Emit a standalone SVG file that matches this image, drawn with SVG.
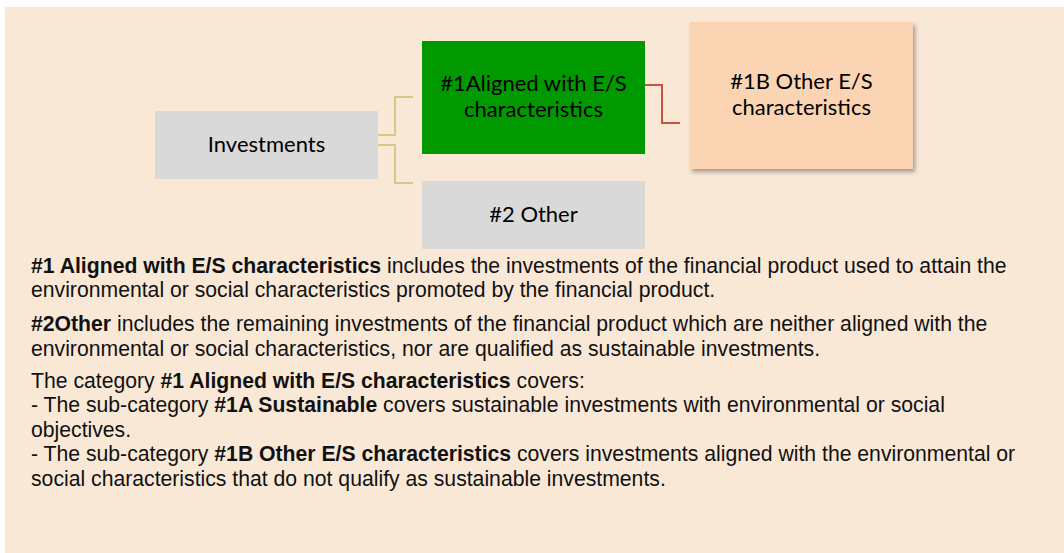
<svg xmlns="http://www.w3.org/2000/svg" width="1064" height="553" viewBox="0 0 1064 553">
<defs>
<style>
.box{font-family:Lato,"Open Sans",sans-serif;font-size:22px;fill:#000;text-anchor:middle}
.body{font-family:"Liberation Sans",Arial,sans-serif;font-size:21.2px;fill:#111}
.b{font-weight:bold}
.c1{fill:none;stroke:#D5C888;stroke-width:2}
.c2{fill:none;stroke:#C8553A;stroke-width:2}
</style>
<filter id="sh" x="-10%" y="-10%" width="130%" height="130%">
<feDropShadow dx="2" dy="3" stdDeviation="2" flood-color="#000" flood-opacity="0.35"/>
</filter>
</defs>
<rect x="0" y="0" width="1064" height="553" fill="#fff"/>
<rect x="5" y="7" width="1059" height="546" fill="#FAE8D7"/>
<g id="connectors">
<polyline class="c1" points="378,135 395,135 395,97 413,97"/>
<polyline class="c1" points="378,145 395,145 395,183 413,183"/>
<polyline class="c2" points="645,85 662,85 662,123 680,123"/>
</g>
<g id="investments">
<rect x="155" y="111" width="223" height="68" fill="#D9D9D9"/>
<text class="box" x="266.5" y="152">Investments</text>
</g>
<g id="aligned">
<rect x="422" y="41" width="223" height="113" fill="#009900"/>
<text class="box" x="533.5" y="91">#1Aligned with E/S</text>
<text class="box" x="533.5" y="117">characteristics</text>
</g>
<g id="other">
<rect x="422" y="181" width="223" height="68" fill="#D9D9D9"/>
<text class="box" x="533.5" y="222">#2 Other</text>
</g>
<g id="other-es">
<rect x="690" y="22" width="223" height="147" fill="#FBD4B4" filter="url(#sh)"/>
<text class="box" x="801.5" y="89">#1B Other E/S</text>
<text class="box" x="801.5" y="115">characteristics</text>
</g>
<g id="text">
<text class="body" x="31" y="273"><tspan class="b">#1 Aligned with E/S characteristics</tspan> includes the investments of the financial product used to attain the</text>
<text class="body" x="31" y="297">environmental or social characteristics promoted by the financial product.</text>
<text class="body" x="31" y="331"><tspan class="b">#2Other</tspan> includes the remaining investments of the financial product which are neither aligned with the</text>
<text class="body" x="31" y="356">environmental or social characteristics, nor are qualified as sustainable investments.</text>
<text class="body" x="31" y="388">The category <tspan class="b">#1 Aligned with E/S characteristics</tspan> covers:</text>
<text class="body" x="31" y="412">- The sub-category <tspan class="b">#1A Sustainable</tspan> covers sustainable investments with environmental or social</text>
<text class="body" x="31" y="437">objectives.</text>
<text class="body" x="31" y="461">- The sub-category <tspan class="b">#1B Other E/S characteristics</tspan> covers investments aligned with the environmental or</text>
<text class="body" x="31" y="486">social characteristics that do not qualify as sustainable investments.</text>
</g>
</svg>
